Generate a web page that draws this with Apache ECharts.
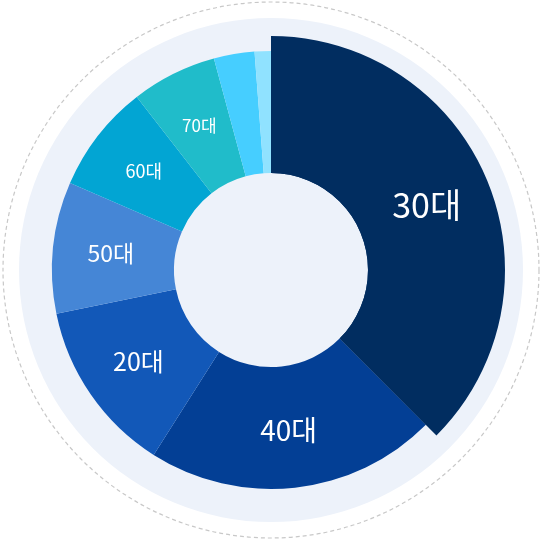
<!DOCTYPE html>
<html>
<head>
<meta charset="utf-8">
<script src="https://cdn.jsdelivr.net/npm/echarts@6/dist/echarts.min.js"></script>
<style>html,body{margin:0;padding:0;background:#fff}#chart{width:542px;height:541px}</style>
</head>
<body>
<div id="chart"></div>
<script>
// 연령대별 비율
var categories = ['30대', '40대', '20대', '50대', '60대', '70대', '80대', '90대'];
var values = [37.5, 21.5, 12.8, 9.7, 8.0, 6.3, 3.0, 1.2];
var colors = ['#012d60', '#033f95', '#1258b8', '#4586d6', '#02a5d3', '#20bcca', '#46ceff', '#90e2ff'];
var labelSizes = [34, 28, 25, 23, 18, 17, 0, 0];

var cx = 271, cy = 270;
var chart = echarts.init(document.getElementById('chart'));

var baseData = categories.map(function (c, i) {
    return {
        name: c, value: values[i],
        itemStyle: { color: colors[i] },
        label: { show: i > 0 && labelSizes[i] > 0, fontSize: labelSizes[i] }
    };
});
var bigData = categories.map(function (c, i) {
    return {
        name: c, value: values[i],
        itemStyle: { color: i === 0 ? colors[0] : 'rgba(0,0,0,0)' },
        label: { show: i === 0, fontSize: labelSizes[0] }
    };
});

chart.setOption({
    animation: false,
    graphic: [
        { type: 'circle', shape: { cx: cx, cy: cy, r: 268 }, z: -10,
          style: { fill: 'none', stroke: '#c8c8c8', lineWidth: 1.2, lineDash: [4, 3] } },
        { type: 'circle', shape: { cx: cx, cy: cy, r: 252 }, z: -9,
          style: { fill: '#edf2fa' } }
    ],
    series: [
        {
            type: 'pie', center: [cx, cy], radius: [97, 219],
            startAngle: 90, clockwise: true, silent: true,
            label: { position: 'inside', color: '#fff', fontFamily: 'Noto Sans CJK KR', formatter: '{b}' },
            labelLine: { show: false },
            data: baseData
        },
        {
            type: 'pie', center: [cx, cy], radius: [97, 234],
            startAngle: 90, clockwise: true, silent: true,
            label: { position: 'inside', color: '#fff', fontFamily: 'Noto Sans CJK KR', formatter: '{b}' },
            labelLine: { show: false },
            data: bigData
        }
    ]
});
</script>
</body>
</html>
